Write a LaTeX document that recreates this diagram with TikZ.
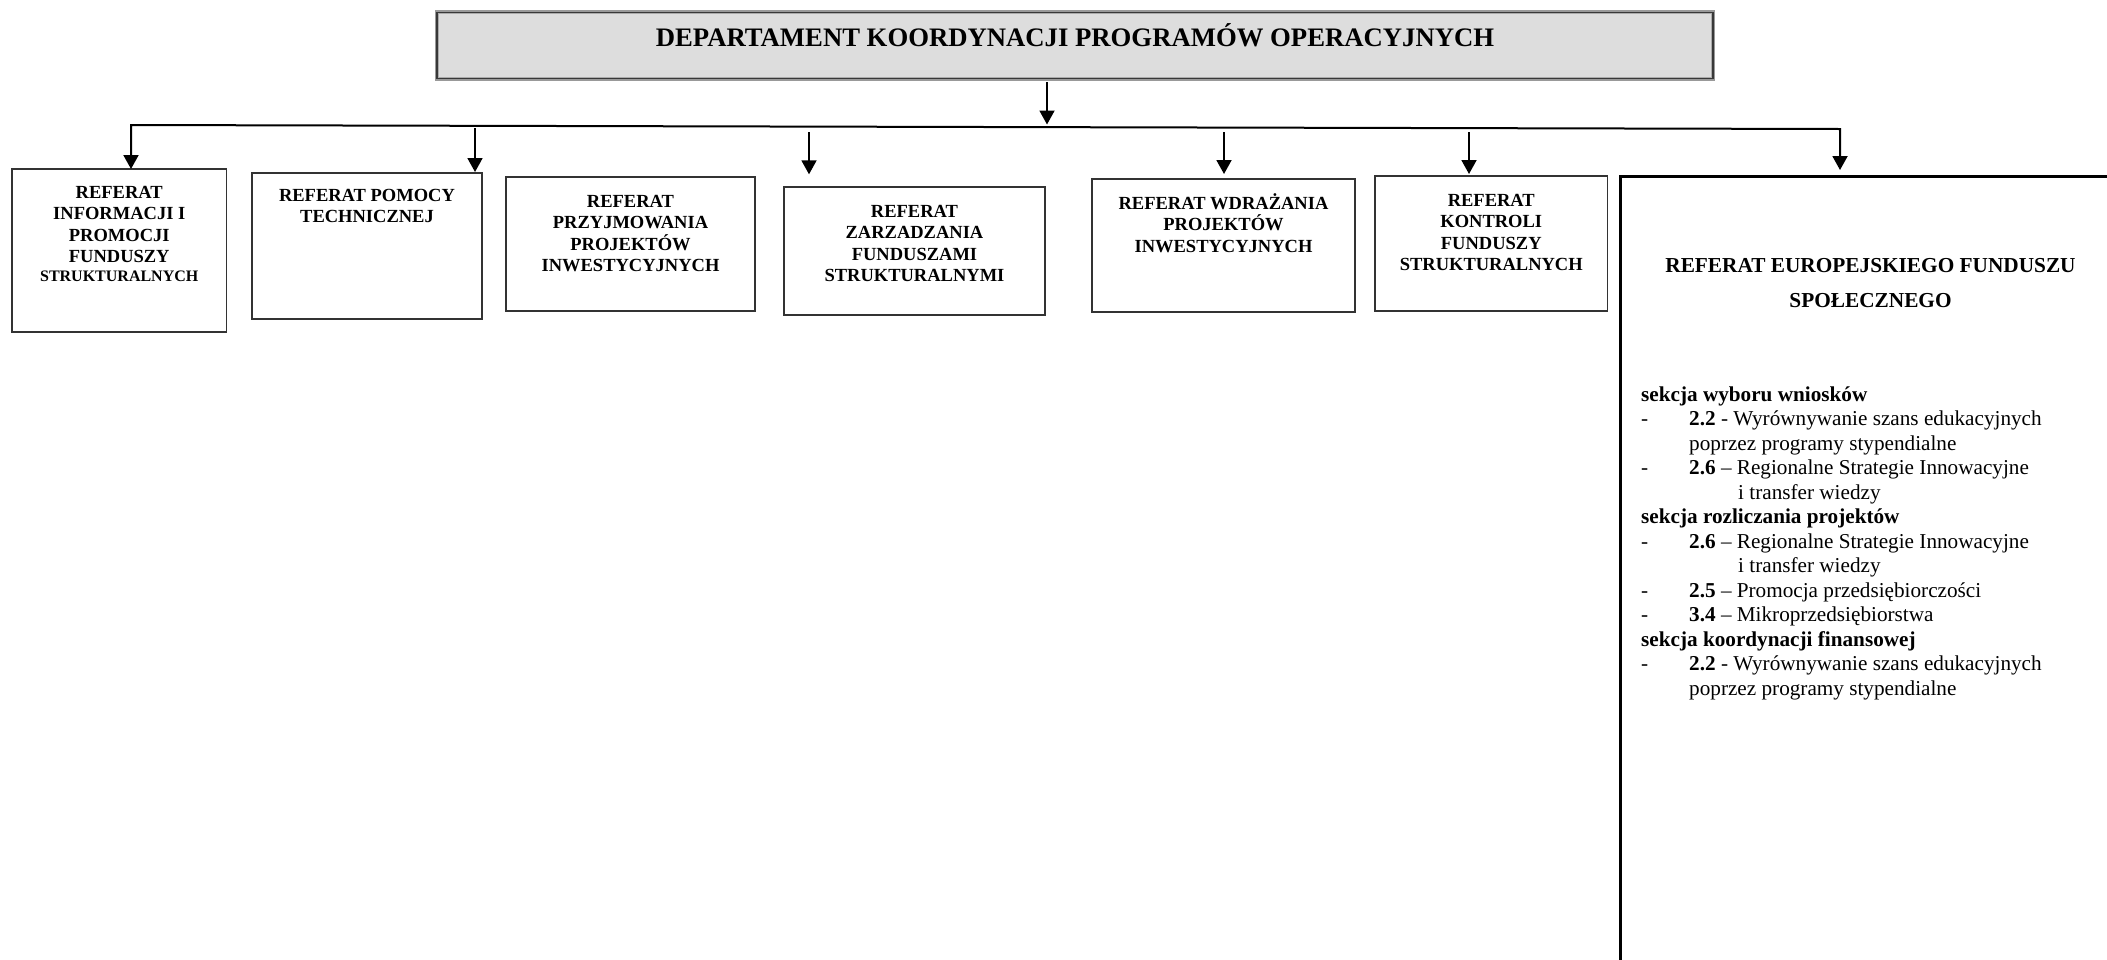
\documentclass[tikz,border=0pt]{standalone}
\usepackage{fontspec}
\setmainfont{Liberation Serif}
\usetikzlibrary{arrows.meta}

% one list entry: dash in its own column, then the item text
\newcommand\dashitem[1]{\makebox[48pt][l]{-}#1}

\begin{document}
\begin{tikzpicture}[x=1pt,y=-1pt,
  conn/.style={line width=1.8pt, -{Triangle[width=15pt,length=14pt]}},
  bus/.style={line width=2pt, {Triangle[width=15pt,length=14pt]}-{Triangle[width=15pt,length=14pt]}},
  unitbox/.style={draw=black!80, line width=1.4pt, fill=white, inner sep=0pt},
  unittext/.style={anchor=base, inner sep=0pt, font=\bfseries\fontsize{18.5}{21.5}\selectfont},
]
\clip (0,0) rectangle (2107,959);
\fill[white] (0,0) rectangle (2107,959);

% department header with its double frame
\node[inner sep=0pt, minimum width=1278pt, minimum height=68pt, fill=black!13.5,
      draw=black!40, line width=2.6pt] (dept) at (1075,45.5) {};
\draw[black!78, line width=1.3pt] ([shift={(2.3,2.3)}]dept.north west) rectangle ([shift={(-2.3,-2.3)}]dept.south east);
\draw[black!33, line width=0.9pt] ([shift={(3.6,3.6)}]dept.north west) rectangle ([shift={(-3.6,-3.6)}]dept.south east);
\node[anchor=base, inner sep=0pt, font=\bfseries\fontsize{26.7}{30}\selectfont] (depttitle) at (1075,46)
  {DEPARTAMENT KOORDYNACJI PROGRAMÓW OPERACYJNYCH};

% units
\node[unitbox, minimum width=214.5pt, minimum height=163pt] (u1) at (119.25,250.5) {};
\node[unitbox, minimum width=230pt,   minimum height=146pt] (u2) at (367,246) {};
\node[unitbox, minimum width=249pt,   minimum height=134pt] (u3) at (630.5,244) {};
\node[unitbox, minimum width=261pt,   minimum height=128pt] (u4) at (914.5,251) {};
\node[unitbox, minimum width=263pt,   minimum height=133pt] (u5) at (1223.5,245.5) {};
\node[unitbox, minimum width=232.5pt, minimum height=135pt] (u6) at (1491.25,243.5) {};
\node[draw=black, line width=3pt, inner sep=0pt, minimum width=580pt, minimum height=924pt] (u7) at (1910,638.5) {};

\node[unittext] (u1t) at (119.25,198) {\parbox[t]{210pt}{\centering REFERAT\\INFORMACJI I\\PROMOCJI\\FUNDUSZY\par
  \fontsize{16}{18.5}\selectfont STRUKTURALNYCH}};
\node[unittext] (u2t) at (367,201) {\parbox[t]{226pt}{\centering REFERAT POMOCY\\TECHNICZNEJ}};
\node[unittext] (u3t) at (630.5,207) {\parbox[t]{245pt}{\centering REFERAT\\PRZYJMOWANIA\\PROJEKTÓW\\INWESTYCYJNYCH}};
\node[unittext] (u4t) at (914.5,217) {\parbox[t]{257pt}{\centering REFERAT\\ZARZADZANIA\\FUNDUSZAMI\\STRUKTURALNYMI}};
\node[unittext] (u5t) at (1223.5,209) {\parbox[t]{259pt}{\centering REFERAT WDRAŻANIA\\PROJEKTÓW\\INWESTYCYJNYCH}};
\node[unittext] (u6t) at (1491.25,206) {\parbox[t]{228pt}{\centering REFERAT\\KONTROLI\\FUNDUSZY\\STRUKTURALNYCH}};

\node[anchor=base, inner sep=0pt, font=\bfseries\fontsize{21.3}{35}\selectfont] (u7t) at (1870.5,272)
  {\parbox[t]{450pt}{\centering REFERAT EUROPEJSKIEGO FUNDUSZU\\SPOŁECZNEGO}};

\node[anchor=base west, inner sep=0pt, font=\fontsize{21.2}{24.5}\selectfont] (u7list) at (1641,401)
  {\parbox[t]{460pt}{\raggedright
   \textbf{sekcja wyboru wniosków}\\
   \dashitem{\textbf{2.2} - Wyrównywanie szans edukacyjnych}\\
   \hspace*{48pt}poprzez programy stypendialne\\
   \dashitem{\textbf{2.6} – Regionalne Strategie Innowacyjne}\\
   \hspace*{97pt}i transfer wiedzy\\
   \textbf{sekcja rozliczania projektów}\\
   \dashitem{\textbf{2.6} – Regionalne Strategie Innowacyjne}\\
   \hspace*{97pt}i transfer wiedzy\\
   \dashitem{\textbf{2.5} – Promocja przedsiębiorczości}\\
   \dashitem{\textbf{3.4} – Mikroprzedsiębiorstwa}\\
   \textbf{sekcja koordynacji finansowej}\\
   \dashitem{\textbf{2.2} - Wyrównywanie szans edukacyjnych}\\
   \hspace*{48pt}poprzez programy stypendialne}};

% distribution bus and its drop points
\coordinate (deptout) at (1047,82);
\coordinate (busin)   at (1047,124.5);
\coordinate (busL)    at (131,125);
\coordinate (busR)    at (1840,129);
\coordinate (u1in)    at (131,169);
\coordinate (u7in)    at (1840,170);
\coordinate (d2) at (475,128);   \coordinate (u2in) at (475,172);
\coordinate (d3) at (809,132);   \coordinate (u4in) at (809,174.3);
\coordinate (d5) at (1224,132);  \coordinate (u5in) at (1224,174);
\coordinate (d6) at (1469,132);  \coordinate (u6in) at (1469,174);

\draw[conn] (deptout) -- (busin);
\draw[bus] (u1in) -- (busL) -- (busR) -- (u7in);
\draw[conn] (d2) -- (u2in);
\draw[conn] (d3) -- (u4in);
\draw[conn] (d5) -- (u5in);
\draw[conn] (d6) -- (u6in);
\end{tikzpicture}
\end{document}
